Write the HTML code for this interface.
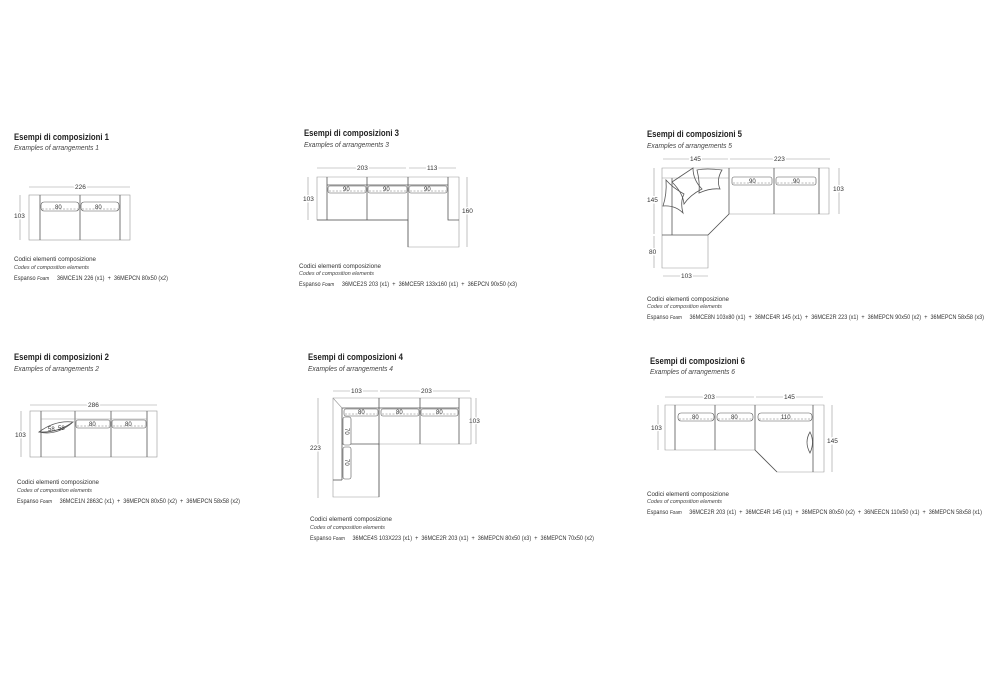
<!DOCTYPE html>
<html><head><meta charset="utf-8"><style>
html,body{margin:0;padding:0;background:#fff;}
svg{display:block;}
text{white-space:pre;}
.t{font-family:"Liberation Sans",sans-serif;font-size:9px;font-weight:bold;fill:#222;}
.s{font-family:"Liberation Sans",sans-serif;font-size:7px;font-style:italic;fill:#444;}
.c{font-family:"Liberation Sans",sans-serif;font-size:6.5px;fill:#333;}
.ci{font-family:"Liberation Sans",sans-serif;font-size:5.5px;font-style:italic;fill:#444;}
.d{font-family:"Liberation Sans",sans-serif;font-size:6.5px;fill:#333;}
.n{font-family:"Liberation Sans",sans-serif;font-size:6px;fill:#333;}
.l{stroke:#555;stroke-width:0.8;fill:none;}
.g{stroke:#999;stroke-width:0.6;fill:none;}
.k{stroke:#555;stroke-width:0.6;fill:#fff;}
.h{stroke:#777;stroke-width:0.5;stroke-dasharray:2 1.5;fill:none;}
.w{stroke:#fff;stroke-width:3;paint-order:stroke;}
</style></head><body>
<svg width="1000" height="700" viewBox="0 0 1000 700" xmlns="http://www.w3.org/2000/svg">

<!-- Panel 1 -->
<text class="t" x="14" y="140" textLength="95" lengthAdjust="spacingAndGlyphs">Esempi di composizioni 1</text>
<text class="s" x="14" y="150" textLength="85" lengthAdjust="spacingAndGlyphs">Examples of arrangements 1</text>
<line class="g" x1="29" y1="187" x2="130" y2="187"/>
<text class="d w" x="75" y="189">226</text>
<line class="g" x1="20" y1="195" x2="20" y2="240"/>
<text class="d w" x="14" y="218">103</text>
<rect class="g" x="29" y="195" width="101" height="45"/>
<line class="l" x1="40" y1="195" x2="40" y2="240"/>
<line class="l" x1="80" y1="195" x2="80" y2="240"/>
<line class="l" x1="120" y1="195" x2="120" y2="240"/>
<rect class="k" x="41" y="202" width="38" height="9" rx="3"/><line class="h" x1="42" y1="209" x2="78" y2="209"/>
<rect class="k" x="81" y="202" width="38" height="9" rx="3"/><line class="h" x1="82" y1="209" x2="118" y2="209"/>
<text class="n" x="55" y="209">80</text><text class="n" x="95" y="209">80</text>
<text class="c" x="14" y="261" textLength="82" lengthAdjust="spacingAndGlyphs">Codici elementi composizione</text>
<text class="ci" x="14" y="269" textLength="75" lengthAdjust="spacingAndGlyphs">Codes of composition elements</text>
<text class="c" x="14" y="280" textLength="154" lengthAdjust="spacingAndGlyphs">Espanso <tspan font-style="italic" font-size="5.5">Foam</tspan>     36MCE1N 226 (x1)  +  36MEPCN 80x50 (x2)</text>

<!-- Panel 3 -->
<text class="t" x="304" y="136" textLength="95" lengthAdjust="spacingAndGlyphs">Esempi di composizioni 3</text>
<text class="s" x="304" y="147" textLength="85" lengthAdjust="spacingAndGlyphs">Examples of arrangements 3</text>
<line class="g" x1="317" y1="168" x2="406" y2="168"/>
<line class="g" x1="409" y1="168" x2="456" y2="168"/>
<text class="d w" x="357" y="170">203</text>
<text class="d w" x="427" y="170">113</text>
<line class="g" x1="308" y1="177" x2="308" y2="220"/>
<text class="d w" x="303" y="201">103</text>
<line class="g" x1="467" y1="177" x2="467" y2="247"/>
<text class="d w" x="462" y="213">160</text>
<path class="g" d="M317 177 H459 V247 H408 V220 H317 Z"/>
<line class="l" x1="327" y1="177" x2="327" y2="220"/>
<line class="l" x1="367" y1="177" x2="367" y2="220"/>
<line class="l" x1="408" y1="177" x2="408" y2="247"/>
<line class="l" x1="408" y1="220" x2="317" y2="220"/>
<path class="l" d="M448 177 V220 H459"/>
<line class="l" x1="327" y1="185" x2="448" y2="185"/>
<rect class="k" x="328" y="186" width="38" height="7" rx="2"/><line class="h" x1="329" y1="191" x2="365" y2="191"/>
<rect class="k" x="368" y="186" width="39" height="7" rx="2"/><line class="h" x1="369" y1="191" x2="406" y2="191"/>
<rect class="k" x="409" y="186" width="38" height="7" rx="2"/><line class="h" x1="410" y1="191" x2="446" y2="191"/>
<text class="n" x="343" y="191">90</text><text class="n" x="383" y="191">90</text><text class="n" x="424" y="191">90</text>
<text class="c" x="299" y="268" textLength="82" lengthAdjust="spacingAndGlyphs">Codici elementi composizione</text>
<text class="ci" x="299" y="275" textLength="75" lengthAdjust="spacingAndGlyphs">Codes of composition elements</text>
<text class="c" x="299" y="286" textLength="218" lengthAdjust="spacingAndGlyphs">Espanso <tspan font-style="italic" font-size="5.5">Foam</tspan>     36MCE2S 203 (x1)  +  36MCE5R 133x160 (x1)  +  36EPCN 90x50 (x3)</text>

<!-- Panel 5 -->
<text class="t" x="647" y="137" textLength="95" lengthAdjust="spacingAndGlyphs">Esempi di composizioni 5</text>
<text class="s" x="647" y="148" textLength="85" lengthAdjust="spacingAndGlyphs">Examples of arrangements 5</text>
<line class="g" x1="663" y1="159" x2="728" y2="159"/>
<line class="g" x1="730" y1="159" x2="830" y2="159"/>
<text class="d w" x="690" y="161">145</text>
<text class="d w" x="774" y="161">223</text>
<line class="g" x1="654" y1="168" x2="654" y2="234"/>
<text class="d w" x="647" y="202">145</text>
<line class="g" x1="654" y1="236" x2="654" y2="268"/>
<text class="d w" x="649" y="254">80</text>
<line class="g" x1="663" y1="276" x2="708" y2="276"/>
<text class="d w" x="681" y="278">103</text>
<line class="g" x1="839" y1="168" x2="839" y2="214"/>
<text class="d w" x="833" y="191">103</text>
<path class="g" d="M662 168 H829 V214 H729 L708 235 V268 H662 Z"/>
<line class="l" x1="729" y1="168" x2="729" y2="214"/>
<line class="l" x1="774" y1="168" x2="774" y2="214"/>
<line class="l" x1="819" y1="168" x2="819" y2="214"/>
<line class="l" x1="729" y1="214" x2="708" y2="235"/>
<line class="l" x1="672" y1="178" x2="672" y2="235"/>
<line class="l" x1="662" y1="235" x2="708" y2="235"/>
<line class="g" x1="662" y1="178" x2="729" y2="178"/>
<rect class="k" x="732" y="177" width="40" height="8" rx="2"/><line class="h" x1="733" y1="183" x2="771" y2="183"/>
<rect class="k" x="776" y="177" width="40" height="8" rx="2"/><line class="h" x1="777" y1="183" x2="815" y2="183"/>
<text class="n" x="749" y="183">90</text><text class="n" x="793" y="183">90</text>
<path class="l" d="M697 170 Q706 168 722 170 Q716 180 720 189 Q710 188 699 193 Q700 182 697 170 Z" fill="#fff"/>
<path class="l" d="M672 182 L693 168 Q693 180 702 189 Q690 195 684 204 Q683 193 672 182 Z" fill="#fff"/>
<path class="l" d="M666 180 Q673 188 684 194 Q680 202 683 213 Q675 205 663 206 Q667 194 666 180 Z" fill="#fff"/>
<text class="c" x="647" y="301" textLength="82" lengthAdjust="spacingAndGlyphs">Codici elementi composizione</text>
<text class="ci" x="647" y="308" textLength="75" lengthAdjust="spacingAndGlyphs">Codes of composition elements</text>
<text class="c" x="647" y="319" textLength="337" lengthAdjust="spacingAndGlyphs">Espanso <tspan font-style="italic" font-size="5.5">Foam</tspan>     36MCE8N 103x80 (x1)  +  36MCE4R 145 (x1)  +  36MCE2R 223 (x1)  +  36MEPCN 90x50 (x2)  +  36MEPCN 58x58 (x3)</text>

<!-- Panel 2 -->
<text class="t" x="14" y="360" textLength="95" lengthAdjust="spacingAndGlyphs">Esempi di composizioni 2</text>
<text class="s" x="14" y="371" textLength="85" lengthAdjust="spacingAndGlyphs">Examples of arrangements 2</text>
<line class="g" x1="30" y1="405" x2="157" y2="405"/>
<text class="d w" x="88" y="407">286</text>
<line class="g" x1="21" y1="411" x2="21" y2="457"/>
<text class="d w" x="15" y="437">103</text>
<rect class="g" x="30" y="411" width="127" height="46"/>
<line class="l" x1="41" y1="411" x2="41" y2="457"/>
<line class="l" x1="75" y1="411" x2="75" y2="457"/>
<line class="l" x1="111" y1="411" x2="111" y2="457"/>
<line class="l" x1="147" y1="411" x2="147" y2="457"/>
<line class="g" x1="41" y1="419" x2="147" y2="419"/>
<rect class="k" x="76" y="420" width="34" height="8" rx="2"/><line class="h" x1="77" y1="426" x2="109" y2="426"/>
<rect class="k" x="112" y="420" width="34" height="8" rx="2"/><line class="h" x1="113" y1="426" x2="145" y2="426"/>
<text class="n" x="89" y="426">80</text><text class="n" x="125" y="426">80</text>
<path class="l" d="M39 432 Q55 420 73 422 Q58 433 39 432 Z" fill="#fff"/>
<path class="l" d="M39 432 Q56 436 72 423" />
<text class="n" x="48" y="431" font-size="4.5">58</text><text class="n" x="58" y="430" font-size="4.5">58</text>
<text class="c" x="17" y="484" textLength="82" lengthAdjust="spacingAndGlyphs">Codici elementi composizione</text>
<text class="ci" x="17" y="492" textLength="75" lengthAdjust="spacingAndGlyphs">Codes of composition elements</text>
<text class="c" x="17" y="503" textLength="223" lengthAdjust="spacingAndGlyphs">Espanso <tspan font-style="italic" font-size="5.5">Foam</tspan>     36MCE1N 2863C (x1)  +  36MEPCN 80x50 (x2)  +  36MEPCN 58x58 (x2)</text>

<!-- Panel 4 -->
<text class="t" x="308" y="360" textLength="95" lengthAdjust="spacingAndGlyphs">Esempi di composizioni 4</text>
<text class="s" x="308" y="371" textLength="85" lengthAdjust="spacingAndGlyphs">Examples of arrangements 4</text>
<line class="g" x1="333" y1="391" x2="378" y2="391"/>
<line class="g" x1="380" y1="391" x2="470" y2="391"/>
<text class="d w" x="351" y="393">103</text>
<text class="d w" x="421" y="393">203</text>
<line class="g" x1="318" y1="398" x2="318" y2="498"/>
<text class="d w" x="310" y="450">223</text>
<line class="g" x1="476" y1="398" x2="476" y2="444"/>
<text class="d w" x="469" y="423">103</text>
<path class="g" d="M333 398 H471 V444 H379 V497 H333 Z"/>
<line class="l" x1="379" y1="398" x2="379" y2="497"/>
<line class="l" x1="420" y1="398" x2="420" y2="444"/>
<line class="l" x1="459" y1="398" x2="459" y2="444"/>
<line class="l" x1="342" y1="444" x2="379" y2="444"/>
<line class="l" x1="342" y1="408" x2="342" y2="480"/>
<line class="l" x1="333" y1="480" x2="342" y2="480"/>
<line class="l" x1="342" y1="408" x2="459" y2="408"/>
<line class="g" x1="333" y1="398" x2="342" y2="408"/>
<rect class="k" x="344" y="409" width="34" height="7" rx="2"/><line class="h" x1="345" y1="414" x2="377" y2="414"/>
<rect class="k" x="381" y="409" width="38" height="7" rx="2"/><line class="h" x1="382" y1="414" x2="418" y2="414"/>
<rect class="k" x="421" y="409" width="37" height="7" rx="2"/><line class="h" x1="422" y1="414" x2="457" y2="414"/>
<text class="n" x="358" y="414">80</text><text class="n" x="396" y="414">80</text><text class="n" x="436" y="414">80</text>
<rect class="k" x="343" y="417" width="8" height="28" rx="2"/>
<rect class="k" x="343" y="447" width="8" height="32" rx="2"/>
<text class="n" transform="translate(345,428) rotate(90)">70</text>
<text class="n" transform="translate(345,459) rotate(90)">70</text>
<text class="c" x="310" y="521" textLength="82" lengthAdjust="spacingAndGlyphs">Codici elementi composizione</text>
<text class="ci" x="310" y="529" textLength="75" lengthAdjust="spacingAndGlyphs">Codes of composition elements</text>
<text class="c" x="310" y="540" textLength="284" lengthAdjust="spacingAndGlyphs">Espanso <tspan font-style="italic" font-size="5.5">Foam</tspan>     36MCE4S 103X223 (x1)  +  36MCE2R 203 (x1)  +  36MEPCN 80x50 (x3)  +  36MEPCN 70x50 (x2)</text>

<!-- Panel 6 -->
<text class="t" x="650" y="364" textLength="95" lengthAdjust="spacingAndGlyphs">Esempi di composizioni 6</text>
<text class="s" x="650" y="374" textLength="85" lengthAdjust="spacingAndGlyphs">Examples of arrangements 6</text>
<line class="g" x1="665" y1="397" x2="754" y2="397"/>
<line class="g" x1="756" y1="397" x2="823" y2="397"/>
<text class="d w" x="704" y="399">203</text>
<text class="d w" x="784" y="399">145</text>
<line class="g" x1="658" y1="405" x2="658" y2="450"/>
<text class="d w" x="651" y="430">103</text>
<line class="g" x1="832" y1="405" x2="832" y2="472"/>
<text class="d w" x="827" y="443">145</text>
<path class="g" d="M665 405 H824 V472 H777 L755 450 H665 Z"/>
<line class="l" x1="675" y1="405" x2="675" y2="450"/>
<line class="l" x1="715" y1="405" x2="715" y2="450"/>
<line class="l" x1="755" y1="405" x2="755" y2="450"/>
<line class="l" x1="813" y1="405" x2="813" y2="472"/>
<line class="l" x1="755" y1="450" x2="777" y2="472"/>
<rect class="k" x="678" y="413" width="36" height="8" rx="3"/><line class="h" x1="679" y1="419" x2="713" y2="419"/>
<rect class="k" x="717" y="413" width="36" height="8" rx="3"/><line class="h" x1="718" y1="419" x2="752" y2="419"/>
<rect class="k" x="758" y="413" width="54" height="8" rx="3"/><line class="h" x1="759" y1="419" x2="811" y2="419"/>
<text class="n" x="692" y="419">80</text><text class="n" x="731" y="419">80</text><text class="n" x="781" y="419">110</text>
<path class="l" d="M810 432 Q804 442 810 453 Q815 442 810 432 Z" fill="#fff"/>
<text class="c" x="647" y="496" textLength="82" lengthAdjust="spacingAndGlyphs">Codici elementi composizione</text>
<text class="ci" x="647" y="503" textLength="75" lengthAdjust="spacingAndGlyphs">Codes of composition elements</text>
<text class="c" x="647" y="514" textLength="335" lengthAdjust="spacingAndGlyphs">Espanso <tspan font-style="italic" font-size="5.5">Foam</tspan>     36MCE2R 203 (x1)  +  36MCE4R 145 (x1)  +  36MEPCN 80x50 (x2)  +  36NEECN 110x50 (x1)  +  36MEPCN 58x58 (x1)</text>
</svg>
</body></html>
